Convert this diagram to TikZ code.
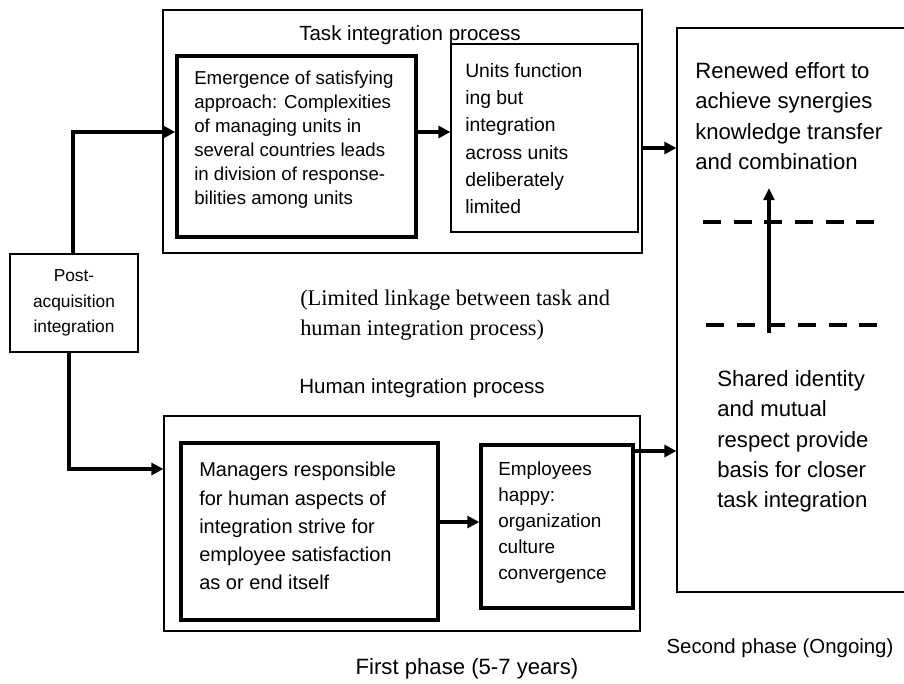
\documentclass[tikz,border=0pt]{standalone}
\usepackage{fontspec}
\setmainfont{Liberation Sans}
\newfontfamily\timesfont{Liberation Serif}
\usetikzlibrary{arrows.meta,calc}
\begin{document}
\begin{tikzpicture}[x=0.75pt,y=-0.75pt,
  thinbox/.style={draw,line width=0.9pt,inner sep=0pt},
  thickbox/.style={draw,line width=2.6pt,inner sep=0pt},
  txt/.style={inner sep=0pt,anchor=north west,align=left},
  arr/.style={line width=3pt,-{Triangle[length=9pt,width=9pt]}},
  sep/.style={line width=3pt,dash pattern=on 13.5pt off 9.5pt}]
\useasboundingbox (0,0) rectangle (904,683);
\clip (0,0) rectangle (904,683);

% outer process boxes
\node[thinbox,minimum width=479*0.75pt,minimum height=243*0.75pt] (task) at (402.5,131.5) {};
\node[thinbox,minimum width=476*0.75pt,minimum height=215*0.75pt] (hum) at (402,523.5) {};
\node[thinbox,minimum width=240*0.75pt,minimum height=564*0.75pt] (phase2) at (797,310) {};

% inner boxes
\node[thickbox,minimum width=239*0.75pt,minimum height=181*0.75pt] (emer) at (296.5,146.5) {};
\node[thinbox,minimum width=187*0.75pt,minimum height=188*0.75pt] (units) at (544.5,138) {};
\node[thinbox,minimum width=128*0.75pt,minimum height=98*0.75pt] (post) at (74,303) {};
\node[thickbox,minimum width=257*0.75pt,minimum height=177*0.75pt] (mgr) at (309.5,531.5) {};
\node[thickbox,minimum width=152*0.75pt,minimum height=163*0.75pt] (empl) at (557,526.5) {};

% texts
\node[font=\fontsize{15.4}{18}\selectfont] (tasktitle) at (410,35) {Task integration process};
\node[font=\fontsize{15.4}{18}\selectfont] (humtitle) at (422,388) {Human integration process};
\node[font=\fontsize{16.6}{18}\selectfont] (first) at (467,669) {First phase (5-7 years)};
\node[font=\fontsize{15.3}{18}\selectfont] (second) at (780,648) {Second phase (Ongoing)};

\node[txt,font=\fontsize{14}{18}\selectfont] (emertxt) at (194,71)
  {Emergence of satisfying\\approach: Complexities\\of managing units in\\several countries leads\\in division of response-\\bilities among units};
\node[txt,font=\fontsize{14.5}{20.5}\selectfont] (unitstxt) at (465,63)
  {Units function\\ing but\\integration\\across units\\deliberately\\limited};
\node[align=center,inner sep=0pt,font=\fontsize{13}{19}\selectfont] (posttxt) at (74,303)
  {Post-\\acquisition\\integration};
\node[txt,font=\fontsize{15}{21.2}\selectfont] (mgrtxt) at (199,462)
  {Managers responsible\\for human aspects of\\integration strive for\\employee satisfaction\\as or end itself};
\node[txt,font=\fontsize{14.2}{19.5}\selectfont] (empltxt) at (498,462)
  {Employees\\happy:\\organization\\culture\\convergence};
\node[txt,font=\fontsize{16.6}{22.8}\selectfont] (renewtxt) at (695,62)
  {Renewed effort to\\achieve synergies\\knowledge transfer\\and combination};
\node[txt,font=\fontsize{16.6}{22.8}\selectfont] (sharedtxt) at (717,370)
  {Shared identity\\and mutual\\respect provide\\basis for closer\\task integration};
\node[txt,font=\timesfont\fontsize{16.8}{22.5}\selectfont] (linktxt) at (300,290)
  {(Limited linkage between task and\\human integration process)};

% connectors
\coordinate (toprow) at (0,132);
\coordinate (botrow) at (0,469);
\coordinate (taskrow) at (0,148);
\coordinate (humrow) at (0,451);
\coordinate (midrow) at (0,522);
\draw[arr] ([xshift=-0.75pt]post.north) |- (emer.west |- toprow);
\draw[arr] ([xshift=-3.75pt]post.south) |- (hum.west |- botrow);
\draw[arr] (emer.east |- toprow) -- (units.west |- toprow);
\draw[arr] (task.east |- taskrow) -- (phase2.west |- taskrow);
\draw[arr] (mgr.east |- midrow) -- (empl.west |- midrow);
\draw[arr] (empl.east |- humrow) -- (phase2.west |- humrow);

% dashed separators and upward arrow in the second phase
\coordinate (dashA1) at (703,222);
\coordinate (dashA2) at (878,222);
\coordinate (dashB1) at (706,325);
\coordinate (dashB2) at (881,325);
\draw[sep] (dashA1) -- (dashA2);
\draw[sep] (dashB1) -- (dashB2);
\coordinate (upfrom) at (769,333);
\coordinate (upto) at (769,188);
\draw[line width=2.6pt,-{Triangle[length=9pt,width=8pt]}] (upfrom) -- (upto);
\end{tikzpicture}
\end{document}
